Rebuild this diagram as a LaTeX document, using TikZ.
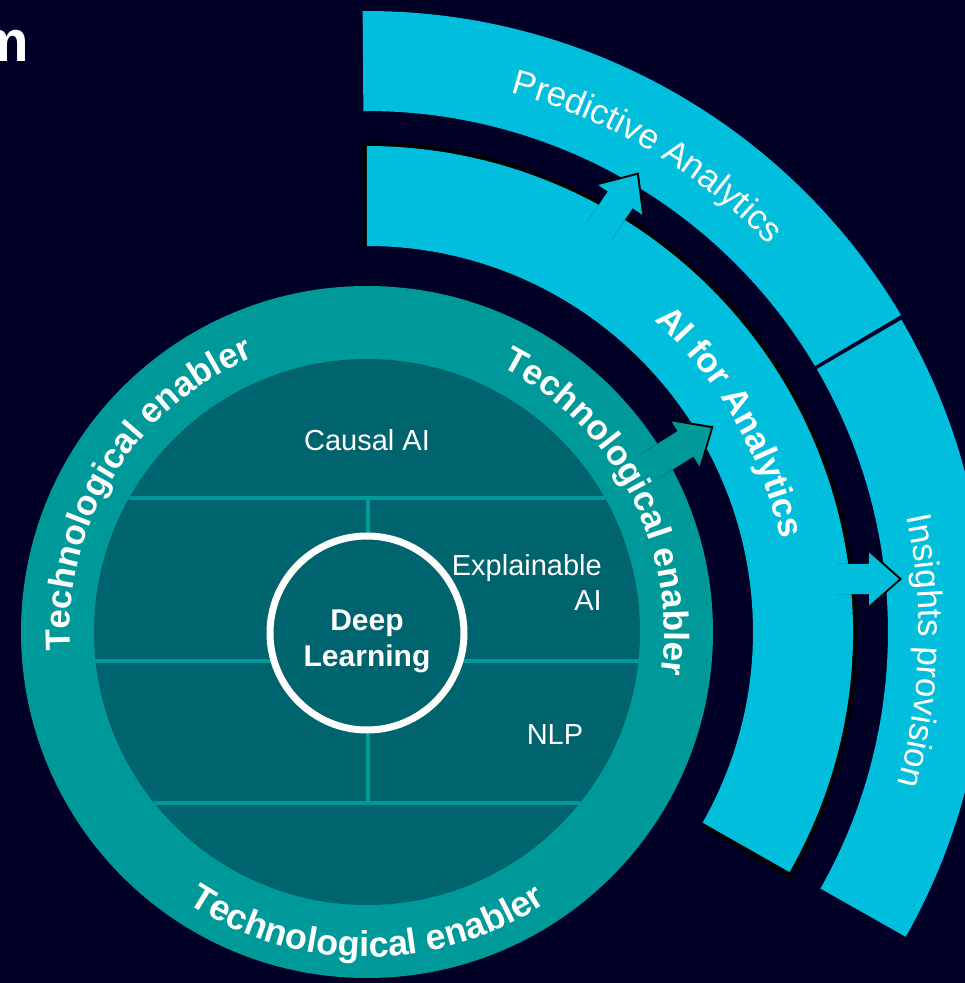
\documentclass[tikz,border=0pt]{standalone}
\usepackage{fontspec}
\setmainfont{Liberation Sans}
\usepackage{tikz}
\usetikzlibrary{decorations.text}
\definecolor{navy}{HTML}{000026}
\definecolor{petrol}{HTML}{009999}
\definecolor{darkpetrol}{HTML}{00646E}
\definecolor{skyband}{HTML}{00BEDC}

\begin{document}
\begin{tikzpicture}[x=1pt,y=1pt,
    band/.style={fill=skyband},
    shade/.style={fill=black},
    divider/.style={draw=petrol, line width=4},
    curved/.style={decorate, decoration={text along path, text align=center, text={#1}}},
    label/.style={text=white, font=\fontsize{29}{35}\selectfont, align=center, inner sep=0},
    blockarrow/.pic={\path[pic actions] (0,0) -- (-30,26.5) -- (-30,15) -- (-#1,15) -- (-#1,-15) -- (-30,-15) -- (-30,-26.5) -- cycle;}]

  % canvas, origin at the centre of the rings
  \fill[navy] (-367,-351) rectangle (598,632);
  \useasboundingbox (-367,-351) rectangle (598,632);

  \node[text=white, font=\bfseries\fontsize{58}{58}\selectfont, anchor=base east, inner sep=0] (title) at (-338,570) {m};

  % outer bands
  \fill[band] (90.4:521) arc[start angle=90.4, end angle=30.7, radius=521] -- (30.7:621) arc[start angle=30.7, end angle=90.4, radius=621] -- cycle;
  \fill[band] (30.3:521) arc[start angle=30.3, end angle=-29.5, radius=521] -- (-29.5:619) arc[start angle=-29.5, end angle=30.3, radius=619] -- cycle;

  % middle band
  \fill[shade] (90.6:386) arc[start angle=90.6, end angle=-30.2, radius=386] -- (-30.2:490) arc[start angle=-30.2, end angle=90.6, radius=490] -- cycle;
  \fill[band] (90:386) arc[start angle=90, end angle=-29.6, radius=386] -- (-29.6:486) arc[start angle=-29.6, end angle=90, radius=486] -- cycle;

  % rings
  \fill[petrol] (0,0) circle[radius=346];
  \fill[darkpetrol] (0,0) circle[radius=273];

  % arrows
  \pic[shade, rotate=56] at (271.7,459.5) {blockarrow=70};
  \pic[band, rotate=56] at (270,457) {blockarrow=70};
  \pic[shade, rotate=32] at (346.5,205.6) {blockarrow=75};
  \pic[fill=petrol, rotate=32] at (344,204) {blockarrow=75};
  \pic[shade] at (535,53) {blockarrow=65};
  \pic[band] at (532,53) {blockarrow=65};

  % inner grid
  \draw[divider] (-238,134) -- (238,134);
  \draw[divider] (-271.5,-29) -- (271.5,-29);
  \draw[divider] (-213,-171) -- (213,-171);
  \draw[divider] (1,134) -- (1,-171);
  \draw[white, line width=7, fill=darkpetrol] (0,-1) circle[radius=97];

  \node[label] (causal) at (0,192) {Causal AI};
  \node[label, align=right, anchor=east] (xai) at (235,50) {Explainable\\AI};
  \node[label] (nlp) at (188,-103) {NLP};
  \node[label, font=\bfseries\fontsize{30}{36}\selectfont] (deep) at (0,-9) {Deep\\Learning};

  % curved captions
  \path[curved={|\bfseries\fontsize{35}{42}\selectfont\color{white}|Technological enabler}] (198:297) arc[start angle=198, end angle=98, radius=297];
  \path[curved={|\bfseries\fontsize{35}{42}\selectfont\color{white}|Technological enabler}] (77.5:297) arc[start angle=77.5, end angle=-22.5, radius=297];
  \path[curved={|\bfseries\fontsize{36}{42}\selectfont\color{white}|Technological enabler}] (-150:325) arc[start angle=-150, end angle=-30, radius=325];
  \path[curved={|\fontsize{35}{42}\selectfont\color{white}|Predictive Analytics}] (85.5:558) arc[start angle=85.5, end angle=33.5, radius=558];
  \path[curved={|\bfseries\fontsize{35}{42}\selectfont\color{white}|AI for Analytics}] (60:424) arc[start angle=60, end angle=0, radius=424];
  \path[curved={|\fontsize{35}{42}\selectfont\color{white}|Insights provision}] (23:552) arc[start angle=23, end angle=-27, radius=552];
\end{tikzpicture}
\end{document}
